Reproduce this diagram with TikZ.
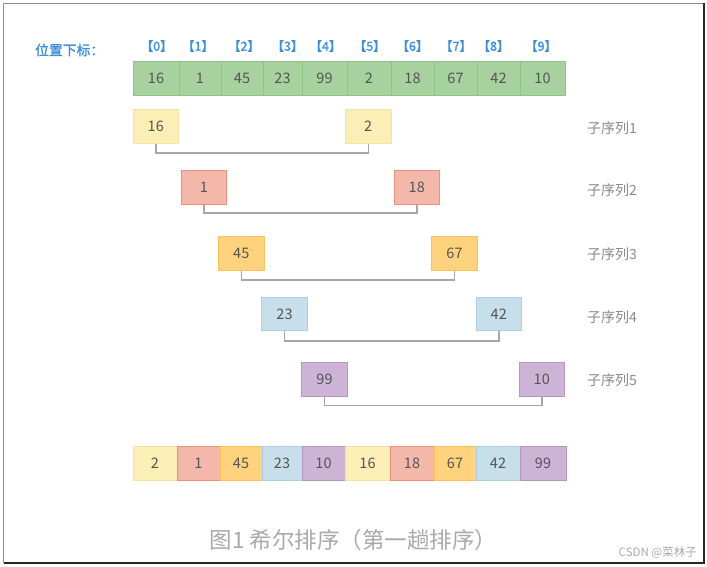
\documentclass[tikz,border=0pt]{standalone}
\usepackage{fontspec}
\setmainfont{Noto Sans CJK SC}
\newfontfamily\cjkb[FakeBold=1.2]{Noto Sans CJK SC}
\definecolor{numgray}{HTML}{555555}
\definecolor{labgray}{HTML}{8A8A8A}
\definecolor{capgray}{HTML}{A9A9A9}
\definecolor{conngray}{HTML}{A6A6A6}
\definecolor{idxblue}{HTML}{3A8EE0}
\definecolor{cgreen}{HTML}{A8D1A0}
\definecolor{cgreenD}{HTML}{8DC385}
\definecolor{cyellow}{HTML}{FCEFB5}
\definecolor{cyellowD}{HTML}{F5E3A0}
\definecolor{cred}{HTML}{F4B8AB}
\definecolor{credD}{HTML}{E8917E}
\definecolor{corange}{HTML}{FFD37D}
\definecolor{corangeD}{HTML}{F8C25C}
\definecolor{cblue}{HTML}{C6DFEB}
\definecolor{cblueD}{HTML}{AACFE2}
\definecolor{cpurple}{HTML}{CDB4D7}
\definecolor{cpurpleD}{HTML}{B597C4}
\begin{document}
\begin{tikzpicture}[x=1pt,y=-1pt,
  cell/.style={draw, line width=1pt, inner sep=0pt, minimum height=33.5pt,
    text=numgray, font=\fontsize{14.5}{14.5}\selectfont},
  sub/.style={cell, minimum width=45.5pt},
  gcell/.style={cell, fill=cgreen, draw=cgreenD},
  ycell/.style={fill=cyellow, draw=cyellowD},
  rcell/.style={fill=cred, draw=credD},
  ocell/.style={fill=corange, draw=corangeD},
  bcell/.style={fill=cblue, draw=cblueD},
  pcell/.style={fill=cpurple, draw=cpurpleD},
  idx/.style={inner sep=0pt, text=idxblue, font=\cjkb\fontsize{12.5}{12.5}\selectfont},
  hdrlab/.style={inner sep=0pt, text=idxblue, font=\cjkb\fontsize{13.8}{13.8}\selectfont},
  sublab/.style={inner sep=0pt, anchor=west, text=labgray, font=\fontsize{14}{14}\selectfont},
  conn/.style={draw=conngray, line width=1.5pt},
  caption/.style={inner sep=0pt, text=capgray, font=\fontsize{22.5}{22.5}\selectfont},
  wmark/.style={inner sep=0pt, text=capgray, font=\fontsize{11.5}{11.5}\selectfont}
]
\useasboundingbox (0,0) rectangle (707,567);
\fill[white] (0,0) rectangle (707,567);
% frame
\draw[line width=1.2pt, draw=black!45] (3.5,563) -- (3.5,3.5) -- (704,3.5);
\draw[line width=1.3pt, draw=black!85] (3.5,563) -- (704,563) -- (704,3.5);

% header
\node[hdrlab, anchor=west] (hdr) at (35,50) {位置下标：};
\foreach \i/\x in {0/156.7,1/198,2/244,3/287.5,4/325.5,5/369.7,6/412.5,7/456,8/493.5,9/541}
  \node[idx] (i\i) at (\x,46) {【\i】};

% top row
\foreach \i/\l/\r/\v in {0/133/179/16,1/179/221/1,2/221/263/45,3/263/302/23,4/302/347/99,
  5/347/391/2,6/391/434/18,7/434/477/67,8/477/520/42,9/520/565/10}
  \node[gcell, minimum width={\r-\l}] (t\i) at ({(\l+\r)/2},78.5) {\v};

% connector levels
\coordinate (y1) at (0,153);
\coordinate (y2) at (0,213);
\coordinate (y3) at (0,280);
\coordinate (y4) at (0,341);
\coordinate (y5) at (0,405.5);

% subsequence 1
\node[sub, ycell] (a1) at (155.75,126.5) {16};
\node[sub, ycell] (b1) at (368.25,126.5) {2};
\draw[conn] (a1.south) -- (a1.south |- y1) -| (b1.south);
\node[sublab] (l1) at (587,128) {子序列1};

% subsequence 2
\node[sub, rcell] (a2) at (204,187.5) {1};
\node[sub, rcell] (b2) at (416.75,187.5) {18};
\draw[conn] (a2.south) -- (a2.south |- y2) -| (b2.south);
\node[sublab] (l2) at (587,190.5) {子序列2};

% subsequence 3
\node[sub, ocell] (a3) at (241.25,253.5) {45};
\node[sub, ocell] (b3) at (454.5,253.5) {67};
\draw[conn] (a3.south) -- (a3.south |- y3) -| (b3.south);
\node[sublab] (l3) at (587,254) {子序列3};

% subsequence 4
\node[sub, bcell] (a4) at (284.5,314) {23};
\node[sub, bcell] (b4) at (498.75,314) {42};
\draw[conn] (a4.south) -- (a4.south |- y4) -| (b4.south);
\node[sublab] (l4) at (587,317) {子序列4};

% subsequence 5
\node[sub, pcell] (a5) at (324.5,379.5) {99};
\node[sub, pcell] (b5) at (541.75,379.5) {10};
\draw[conn] (a5.south) -- (a5.south |- y5) -| (b5.south);
\node[sublab] (l5) at (587,380) {子序列5};

% result row
\foreach \i/\l/\r/\v/\s in {0/133/177/2/ycell,1/177/220/1/rcell,2/220/262/45/ocell,3/262/302/23/bcell,
  4/302/345/10/pcell,5/345/390/16/ycell,6/390/434/18/rcell,7/434/476/67/ocell,8/476/520/42/bcell,9/520/566/99/pcell}
  \node[cell, \s, minimum width={\r-\l}] (r\i) at ({(\l+\r)/2},463.5) {\v};

% caption and watermark
\node[caption] (cap) at (353.5,540) {图1 希尔排序（第一趟排序）};
\node[wmark, anchor=east] (wm) at (697,553) {CSDN @菜林子};
\end{tikzpicture}
\end{document}
